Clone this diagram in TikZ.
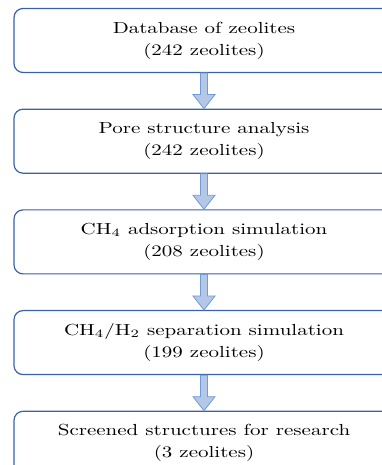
\documentclass[tikz,border=0pt]{standalone}
\usepackage{tikz}
\usetikzlibrary{positioning, calc}
\definecolor{boxcolor}{HTML}{3A62A8}
\definecolor{arrowline}{HTML}{6F9BD8}
\definecolor{arrowfill}{HTML}{B4C7E7}

\tikzset{
  stagebox/.style={draw=boxcolor, line width=1.2pt, rounded corners=9pt, fill=white,
    minimum width=380pt, minimum height=64pt},
  stagetext/.style={align=center, inner sep=0pt, xscale=2.1, yscale=1.6, transform shape,
    font=\fontsize{10}{13.75}\selectfont},
  flowarrow/.style={draw=arrowline, fill=arrowfill, line width=0.8pt, line join=miter}
}

% block arrow from the bottom of one box to the top of the next
\newcommand{\flowarrow}[2]{%
  \draw[flowarrow] ($(#1.south)+(-3.5,0)$) -- ($(#2.north)+(-3.5,14)$)
    -- ($(#2.north)+(-11,14)$) -- (#2.north) -- ($(#2.north)+(11,14)$)
    -- ($(#2.north)+(3.5,14)$) -- ($(#1.south)+(3.5,0)$) -- cycle;}

\begin{document}
\begin{tikzpicture}[x=1pt, y=1pt, node distance=35.5pt]

    \useasboundingbox (0,0) rectangle (382,465);

    % Screening stages
    \node[stagebox] (database) at (204,424.5) {};
    \node[stagebox, below=of database] (pore) {};
    \node[stagebox, below=of pore] (adsorption) {};
    \node[stagebox, below=of adsorption] (separation) {};
    \node[stagebox, below=of separation] (screened) {};

    % Stage labels
    \node[stagetext] (databaselabel) at (database) {Database of zeolites\\(242 zeolites)};
    \node[stagetext] (porelabel) at (pore) {Pore structure analysis\\(242 zeolites)};
    \node[stagetext] (adsorptionlabel) at (adsorption) {CH$_4$ adsorption simulation\\(208 zeolites)};
    \node[stagetext] (separationlabel) at (separation) {CH$_4$/H$_2$ separation simulation\\(199 zeolites)};
    \node[stagetext] (screenedlabel) at (screened) {Screened structures for research\\(3 zeolites)};

    % Arrows
    \flowarrow{database}{pore}
    \flowarrow{pore}{adsorption}
    \flowarrow{adsorption}{separation}
    \flowarrow{separation}{screened}

\end{tikzpicture}
\end{document}
